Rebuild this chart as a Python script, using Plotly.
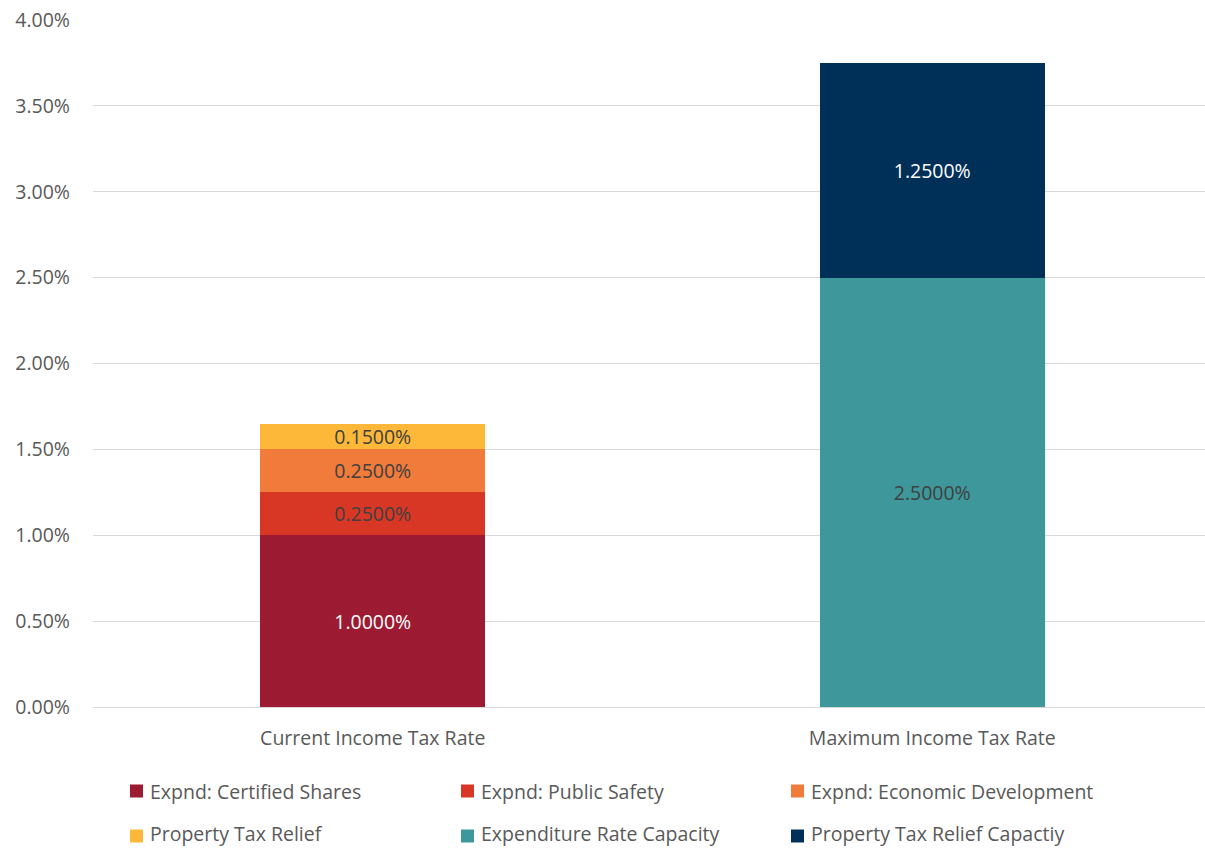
import plotly.graph_objects as go

# Income tax rate components (as fractions of income)
categories = ["Current Income Tax Rate", "Maximum Income Tax Rate"]
series_names = [
    "Expnd: Certified Shares",
    "Expnd: Public Safety",
    "Expnd: Economic Development",
    "Property Tax Relief",
    "Expenditure Rate Capacity",
    "Property Tax Relief Capactiy",
]
certified_shares = [0.0100, None]
public_safety = [0.0025, None]
economic_development = [0.0025, None]
property_tax_relief = [0.0015, None]
expenditure_capacity = [None, 0.0250]
property_tax_relief_capacity = [None, 0.0125]
y_ticks = [0.0, 0.005, 0.01, 0.015, 0.02, 0.025, 0.03, 0.035, 0.04]

series_values = [
    certified_shares,
    public_safety,
    economic_development,
    property_tax_relief,
    expenditure_capacity,
    property_tax_relief_capacity,
]
colors = ["#9C1B32", "#D93725", "#F07B3A", "#FDB83A", "#3E979A", "#003057"]
label_colors = ["#FFFFFF", "#404040", "#404040", "#404040", "#404040", "#FFFFFF"]

FONT = "Open Sans"
FS = 19.5
W, H = 1205, 848
L, R, T, B = 93, 0, 20, 141
plot_w = W - L - R
plot_h = H - T - B

fig = go.Figure()
for name, vals, col, lc in zip(series_names, series_values, colors, label_colors):
    fig.add_trace(go.Bar(
        x=[0, 1],
        y=vals,
        name=name,
        marker=dict(color=col, line=dict(width=0)),
        width=0.402,
        texttemplate="%{y:.4%}",
        textposition="inside",
        insidetextanchor="middle",
        textfont=dict(family=FONT, size=FS, color=lc),
        showlegend=False,
        hoverinfo="skip",
    ))


def px_x(px):
    return (px - L) / plot_w


def px_y(py):
    return (H - B - py) / plot_h


# Legend drawn as swatches + labels in a 3-column grid
legend_cols = [130, 461, 791]
legend_rows = [791, 836]
text_rows = [791, 833]
shapes = []
annotations = []
for i, (name, col) in enumerate(zip(series_names, colors)):
    cx = legend_cols[i % 3]
    cy = legend_rows[i // 3]
    ty = text_rows[i // 3]
    shapes.append(dict(
        type="rect", xref="paper", yref="paper",
        x0=px_x(cx), x1=px_x(cx + 13),
        y0=px_y(cy + 6.5), y1=px_y(cy - 6.5),
        fillcolor=col, line=dict(width=0),
    ))
    annotations.append(dict(
        xref="paper", yref="paper",
        x=px_x(cx + 18), y=px_y(ty),
        text=name, showarrow=False,
        xanchor="left", yanchor="middle",
        font=dict(family=FONT, size=FS, color="#595959"),
    ))

fig.update_layout(
    width=W, height=H,
    margin=dict(l=L, r=R, t=T, b=B, pad=0),
    barmode="stack",
    paper_bgcolor="white",
    plot_bgcolor="white",
    font=dict(family=FONT, size=FS, color="#595959"),
    uniformtext=dict(minsize=FS, mode="show"),
    shapes=shapes,
    annotations=annotations,
    xaxis=dict(
        range=[-0.5, 1.4875],
        tickmode="array",
        tickvals=[0, 1],
        ticktext=categories,
        showgrid=False,
        zeroline=False,
        showline=False,
        ticks="",
        ticklabelstandoff=17,
        tickfont=dict(family=FONT, size=FS, color="#595959"),
        fixedrange=True,
    ),
    yaxis=dict(
        range=[0, 0.04],
        tickmode="array",
        tickvals=y_ticks,
        tickformat=".2%",
        showgrid=True,
        gridcolor="#D9D9D9",
        gridwidth=1.3,
        zeroline=True,
        zerolinecolor="#D9D9D9",
        zerolinewidth=1.3,
        showline=False,
        ticks="",
        ticklabelstandoff=22,
        tickfont=dict(family=FONT, size=FS, color="#595959"),
        fixedrange=True,
    ),
)

fig.write_html("out.html")
